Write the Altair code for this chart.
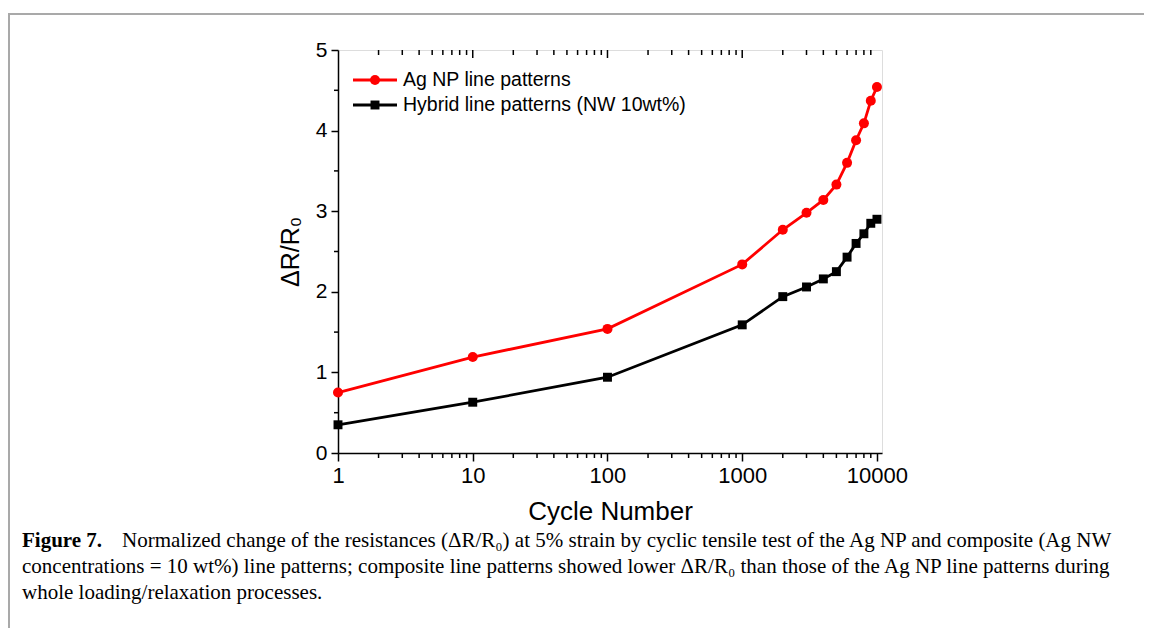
import altair as alt
import pandas as pd

# ---- data ----
cycles = [1, 10, 100, 1000, 2000, 3000, 4000, 5000, 6000, 7000, 8000, 9000, 10000]
ag_np = [0.75, 1.19, 1.54, 2.34, 2.77, 2.98, 3.14, 3.33, 3.60, 3.88, 4.09, 4.37, 4.54]
hybrid = [0.35, 0.63, 0.94, 1.59, 1.94, 2.06, 2.16, 2.25, 2.43, 2.60, 2.72, 2.85, 2.90]
series_names = ["Ag NP line patterns", "Hybrid line patterns (NW 10wt%)"]
series_colors = ["#ff0000", "#000000"]
x_major = [1, 10, 100, 1000, 10000]
x_minor = [m * d for d in [1, 10, 100, 1000] for m in range(2, 10)]
y_major = [0, 1, 2, 3, 4, 5]
y_minor = [0.5, 1.5, 2.5, 3.5, 4.5]
caption_lines = [
    "Normalized change of the resistances (\u0394R/R\u2080) at 5% strain by cyclic tensile test of the Ag NP and composite (Ag NW",
    "concentrations = 10 wt%) line patterns; composite line patterns showed lower \u0394R/R\u2080 than those of the Ag NP line patterns during",
    "whole loading/relaxation processes.",
]
caption_head = "Figure 7."

W, H = 544, 403
PAD_L, PAD_T, PAD_R, PAD_B = 330, 42, 262, 175
SANS = "Liberation Sans"
SERIF = "Liberation Serif"

df = pd.DataFrame({
    "cycle": cycles * 2,
    "value": ag_np + hybrid,
    "series": [series_names[0]] * len(cycles) + [series_names[1]] * len(cycles),
})

xscale = alt.Scale(type="log", domain=[1, 10900], nice=False)
yscale = alt.Scale(domain=[0, 5], nice=False, zero=False)

xaxis = alt.Axis(values=x_major, format="d", title="Cycle Number", grid=False,
                 labelFont=SANS, labelFontSize=22, labelColor="black", labelPadding=4,
                 labelFlush=False, labelOverlap=False,
                 tickSize=8, tickWidth=1.5, tickColor="black",
                 domainColor="black", domainWidth=1.5,
                 titleFont=SANS, titleFontSize=26, titleFontWeight="normal",
                 titleColor="black", titlePadding=12)
yaxis = alt.Axis(values=y_major, format="d", title="\u0394R/R\u2080", grid=False,
                 labelFont=SANS, labelFontSize=21, labelColor="black", labelPadding=4,
                 labelFlush=False,
                 tickSize=7, tickWidth=1.5, tickColor="black",
                 domainColor="black", domainWidth=1.5,
                 titleFont=SANS, titleFontSize=25, titleFontWeight="normal",
                 titleColor="black", titlePadding=12)

color_scale = alt.Scale(domain=series_names, range=series_colors)

base = alt.Chart(df).encode(
    x=alt.X("cycle:Q", scale=xscale, axis=xaxis),
    y=alt.Y("value:Q", scale=yscale, axis=yaxis),
    color=alt.Color("series:N", scale=color_scale, legend=None),
)
lines = base.mark_line(strokeWidth=2.8)
pts_np = base.transform_filter(alt.datum.series == series_names[0]).mark_point(
    shape="circle", filled=True, size=100, opacity=1)
pts_hy = base.transform_filter(alt.datum.series == series_names[1]).mark_point(
    shape="square", filled=True, size=80, opacity=1)

# minor / mirror ticks
xmin_df = pd.DataFrame({"cycle": x_minor})
xmaj_top_df = pd.DataFrame({"cycle": x_major[1:-1]})
ymin_df = pd.DataFrame({"value": y_minor})

bot_minor = alt.Chart(xmin_df).mark_rule(color="black", strokeWidth=1.5).encode(
    x=alt.X("cycle:Q", scale=xscale), y=alt.value(H), y2=alt.value(H + 5))
top_minor = alt.Chart(xmin_df).mark_rule(color="black", strokeWidth=1.5).encode(
    x=alt.X("cycle:Q", scale=xscale), y=alt.value(0), y2=alt.value(5))
top_major = alt.Chart(xmaj_top_df).mark_rule(color="black", strokeWidth=1.5).encode(
    x=alt.X("cycle:Q", scale=xscale), y=alt.value(0), y2=alt.value(8))
left_minor = alt.Chart(ymin_df).mark_rule(color="black", strokeWidth=1.5).encode(
    y=alt.Y("value:Q", scale=yscale), x=alt.value(-4), x2=alt.value(0))

# custom legend (inside plot, top-left)
one = pd.DataFrame({"k": [0]})
leg = []
for i, (name, col, shp) in enumerate(zip(series_names, series_colors, ["circle", "square"])):
    ly = 30 + 25 * i
    leg.append(alt.Chart(one).mark_rule(color=col, strokeWidth=2.8).encode(
        x=alt.value(15), x2=alt.value(59), y=alt.value(ly)))
    leg.append(alt.Chart(one).mark_point(shape=shp, filled=True, color=col, opacity=1,
                                         size=100 if shp == "circle" else 80).encode(
        x=alt.value(37), y=alt.value(ly)))
    leg.append(alt.Chart(one).mark_text(text=name, font=SANS, fontSize=19.5, color="black",
                                        align="left", baseline="middle").encode(
        x=alt.value(65), y=alt.value(ly)))

# outer frame (page decoration)
frame = alt.Chart(one).mark_rect(fill="transparent", stroke="#a9a9a9", strokeWidth=2).encode(
    x=alt.value(-329), y=alt.value(-36), x2=alt.value(W + PAD_R + 4), y2=alt.value(H + PAD_B + 4))

# caption
cap_x = 22 - 338
cap_y0 = 541 - 50
cap = [alt.Chart(one).mark_text(text=caption_head, font=SERIF, fontSize=21, fontWeight="bold",
                                color="black", align="left", baseline="middle").encode(
    x=alt.value(cap_x), y=alt.value(cap_y0))]
for i, line in enumerate(caption_lines):
    cx = cap_x + (100 if i == 0 else 0)
    cap.append(alt.Chart(one).mark_text(text=line, font=SERIF, fontSize=21, color="black",
                                        align="left", baseline="middle").encode(
        x=alt.value(cx), y=alt.value(cap_y0 + 26 * i)))

chart = alt.layer(
    frame, lines, pts_np, pts_hy, bot_minor, top_minor, top_major, left_minor, *leg, *cap
).properties(
    width=W, height=H,
    autosize=alt.AutoSizeParams(type="none"),
    padding={"left": PAD_L, "top": PAD_T, "right": PAD_R, "bottom": PAD_B},
).configure_view(
    stroke="black", strokeWidth=1.5
).configure(background="white")

chart.save("out.html", embed_options={"renderer": "svg", "actions": False})
